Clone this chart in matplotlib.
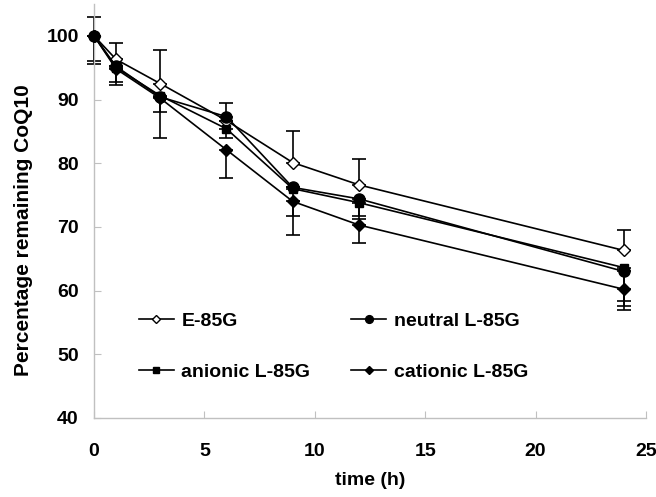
import numpy as np
import matplotlib.pyplot as plt

plt.rcParams['font.family'] = ['Liberation Sans', 'DejaVu Sans']
plt.rcParams['font.weight'] = 'bold'

time_h = [0, 1, 3, 6, 9, 12, 24]

e85g = [100, 96.3, 92.5, 86.7, 80.1, 76.6, 66.3]
neutral = [100, 95.2, 90.4, 87.3, 76.2, 74.4, 63.0]
anionic = [100, 95.0, 90.6, 85.4, 76.0, 73.8, 63.6]
cationic = [100, 94.8, 90.2, 82.1, 74.0, 70.3, 60.2]

# error bars as drawn (one-sided in the original)
e85g_up = [2.9, 2.5, 5.3, 0, 5.0, 4.1, 3.2]
e85g_lo = [0, 0, 0, 0, 0, 0, 0]
neutral_up = [0, 0, 0, 2.1, 0, 0, 0]
neutral_lo = [4.0, 0, 0, 0, 0, 3.2, 4.7]
anionic_up = [0, 0, 0, 0, 0, 0, 0]
anionic_lo = [4.4, 2.3, 2.5, 1.5, 4.3, 2.1, 6.0]
cationic_up = [0, 0, 0, 0, 0, 0, 0]
cationic_lo = [0, 2.5, 6.3, 4.5, 5.3, 2.8, 3.2]

labels = ['E-85G', 'neutral L-85G', 'anionic L-85G', 'cationic L-85G']

fig = plt.figure(figsize=(6.56, 4.97), dpi=100)
ax = fig.add_axes([0.1433, 0.159, 0.8415, 0.833])

series = [
    (e85g, e85g_lo, e85g_up, 'D', 'white', 6.5),
    (neutral, neutral_lo, neutral_up, 'o', 'black', 8),
    (anionic, anionic_lo, anionic_up, 's', 'black', 6),
    (cationic, cationic_lo, cationic_up, 'D', 'black', 6.5),
]
handles = {}
for lab, (vals, lo, up, mk, fc, ms) in zip(labels, series):
    eb = ax.errorbar(time_h, vals, yerr=[lo, up], fmt='none', ecolor='black',
                     elinewidth=1.2, capsize=5, capthick=1.2, zorder=2)
    for art in eb.lines[1] + eb.lines[2]:
        art.set_clip_on(False)
    h, = ax.plot(time_h, vals, color='black', lw=1.2, marker=mk, ms=ms,
                 mfc=fc, mec='black', mew=1.0, zorder=3, clip_on=False)
    handles[lab] = h

ax.set_xlim(0, 25)
ax.set_ylim(40, 105)
ax.set_xticks([0, 5, 10, 15, 20, 25])
ax.set_yticks([40, 50, 60, 70, 80, 90, 100])
for s in ['top', 'right']:
    ax.spines[s].set_visible(False)
for s in ['left', 'bottom']:
    ax.spines[s].set_color('#c0c0c0')
    ax.spines[s].set_linewidth(1.0)
ax.tick_params(direction='in', length=5, color='#c0c0c0', labelsize=14)
ax.tick_params(axis='x', pad=18)
ax.tick_params(axis='y', pad=11)
for t in ax.get_xticklabels() + ax.get_yticklabels():
    t.set_fontweight('bold')

ax.set_xlabel('time (h)', fontsize=14, fontweight='bold', labelpad=9)
ax.set_ylabel('Percentage remaining CoQ10', fontsize=15, fontweight='bold')
ax.yaxis.set_label_coords(-0.1105, 0.454)

order = ['E-85G', 'anionic L-85G', 'neutral L-85G', 'cationic L-85G']
ax.legend([handles[k] for k in order], order, ncol=2, frameon=False,
          loc='upper left', bbox_to_anchor=(0.049, 0.297),
          handlelength=1.8, handletextpad=0.4, columnspacing=2.1,
          labelspacing=1.7, markerscale=0.7,
          prop={'weight': 'bold', 'size': 14})

fig.savefig('out.png', dpi=100)
